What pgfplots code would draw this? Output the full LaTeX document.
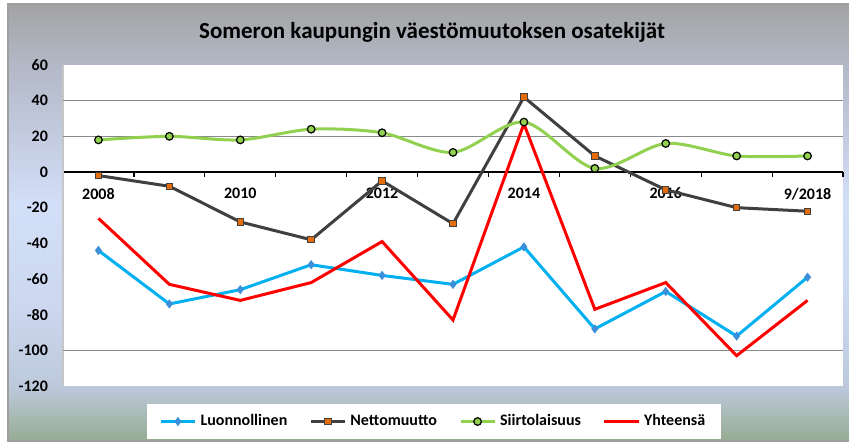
\documentclass[border=0pt]{standalone}
\usepackage{fontspec}
\setmainfont{Carlito}
\usepackage{pgfplots}
\pgfplotsset{compat=1.18}

\definecolor{luonn}{HTML}{00B0F0}
\definecolor{luonnmark}{HTML}{3C8FD8}
\definecolor{netto}{HTML}{404040}
\definecolor{nettomark}{HTML}{E46C0A}
\definecolor{siirto}{HTML}{92D050}
\definecolor{bgtop}{HTML}{A3A3A3}
\definecolor{bgc4}{HTML}{B2B8C6}
\definecolor{bgmid}{HTML}{D3DEF8}
\definecolor{bgc2}{HTML}{CCD7EF}
\definecolor{bgc1}{HTML}{BCC8DA}
\definecolor{bgbot}{HTML}{97AB92}
\definecolor{gridc}{HTML}{8A8A8A}

\pgfdeclareverticalshading{chartbg}{100bp}{color(0bp)=(bgbot); color(25bp)=(bgbot); color(31bp)=(bgc1); color(40bp)=(bgc2); color(52bp)=(bgmid); color(68bp)=(bgc4); color(75bp)=(bgtop); color(100bp)=(bgtop)}

\begin{document}
\begin{tikzpicture}
\path[use as bounding box] (0,0) rectangle (424.5pt,222pt);
\shade[shading=chartbg] (4pt,1.5pt) rectangle (426pt,220pt);
\draw[gray!75, line width=0.8pt] (4pt,1.5pt) rectangle (426pt,220pt);
\node[font=\bfseries\fontsize{11.5}{13}\selectfont] at (216pt,206pt) {Someron kaupungin väestömuutoksen osatekijät};

\begin{axis}[
  at={(31.5pt,29pt)}, anchor=south west,
  scale only axis, width=390pt, height=160.5pt,
  xmin=-0.5, xmax=10.5, ymin=-120, ymax=60,
  ytick={-120,-100,...,60},
  xtick={0,2,4,6,8,10},
  xticklabels={2008,2010,2012,2014,2016,9/2018},
  minor xtick={-0.5,0.5,...,10.5},
  axis x line=middle, axis y line=left,
  hide obscured x ticks=false, hide obscured y ticks=false,
  axis line style={-},
  x axis line style={black, line width=0.6pt},
  y axis line style={gray!45, line width=1pt},
  major tick length=0pt, minor tick length=2.5pt,
  tick align=outside,
  minor tick style={black, line width=0.6pt},
  axis background/.style={fill=white},
  tick label style={font=\bfseries\fontsize{8}{9}\selectfont},
  /pgf/number format/assume math mode=true,
  xticklabel style={yshift=-4.5pt},
  yticklabel style={xshift=-4pt},
  legend columns=4,
  legend style={at={(0.1077,0)}, anchor=north west, yshift=-9pt,
    draw=none, fill=white, font=\bfseries\fontsize{8}{9}\selectfont,
    inner xsep=6pt, inner ysep=3pt,
    /tikz/every even column/.append style={column sep=9pt}},
  legend cell align=left,
]
\draw[gridc, line width=0.5pt] (axis cs:-0.5,40) -- (axis cs:10.5,40);
\draw[gridc, line width=0.5pt] (axis cs:-0.5,20) -- (axis cs:10.5,20);
\draw[gridc, line width=0.5pt] (axis cs:-0.5,-100) -- (axis cs:10.5,-100);

\addplot[luonn, line width=1.5pt, mark=diamond*, mark size=2pt,
  mark options={fill=luonnmark, draw=luonnmark, line width=0.4pt}]
  coordinates {(0,-44) (1,-74) (2,-66) (3,-52) (4,-58) (5,-63) (6,-42) (7,-88) (8,-67) (9,-92) (10,-59)};
\addlegendentry{Luonnollinen}
\addplot[netto, line width=1.5pt, mark=square*, mark size=1.6pt,
  mark options={fill=nettomark, draw=netto, line width=0.5pt}]
  coordinates {(0,-2) (1,-8) (2,-28) (3,-38) (4,-5) (5,-29) (6,42) (7,9) (8,-10) (9,-20) (10,-22)};
\addlegendentry{Nettomuutto}
\addplot[siirto, line width=1.5pt, smooth, mark=*, mark size=1.9pt,
  mark options={fill=siirto, draw=black, line width=0.6pt}]
  coordinates {(0,18) (1,20) (2,18) (3,24) (4,22) (5,11) (6,28) (7,2) (8,16) (9,9) (10,9)};
\addlegendentry{Siirtolaisuus}
\addplot[red, line width=1.5pt]
  coordinates {(0,-26) (1,-63) (2,-72) (3,-62) (4,-39) (5,-83) (6,27) (7,-77) (8,-62) (9,-103) (10,-72)};
\addlegendentry{Yhteensä}
\end{axis}
\end{tikzpicture}
\end{document}
